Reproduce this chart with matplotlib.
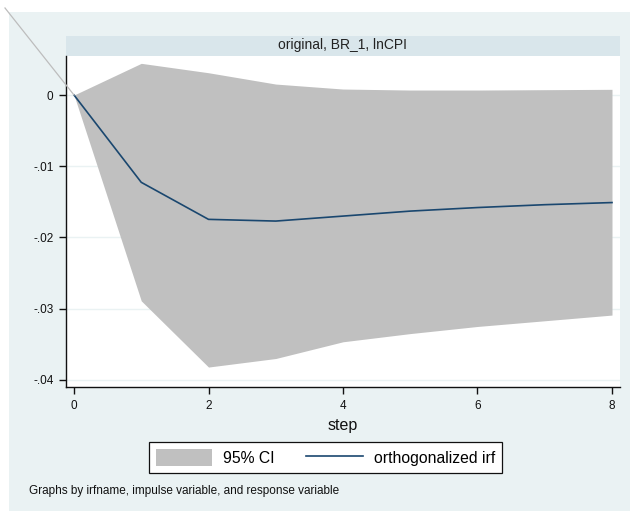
import matplotlib
matplotlib.use("Agg")
import matplotlib.pyplot as plt
from matplotlib.patches import Rectangle, Patch
from matplotlib.lines import Line2D

plt.rcParams['font.family'] = ['Liberation Sans', 'DejaVu Sans']

# ---- data ----
steps = [0, 1, 2, 3, 4, 5, 6, 7, 8]
irf = [0.0, -0.01226, -0.01746, -0.0177, -0.0170, -0.0163, -0.0158, -0.0154, -0.0151]
ci_upper = [0.0, 0.00445, 0.00313, 0.00154, 0.00084, 0.0007, 0.0007, 0.00075, 0.0008]
ci_lower = [0.0, -0.0289, -0.0382, -0.0370, -0.03465, -0.0335, -0.0325, -0.0317, -0.0309]
yticks = [0, -0.01, -0.02, -0.03, -0.04]
ytick_labels = ["0", "-.01", "-.02", "-.03", "-.04"]
xticks = [0, 2, 4, 6, 8]
panel_title = "original, BR_1, lnCPI"
note = "Graphs by irfname, impulse variable, and response variable"

W, H = 630, 511
fig = plt.figure(figsize=(W / 100, H / 100), dpi=100, facecolor="white")

def fx(px):
    return px / W

def fy(py):
    return 1 - py / H

# outer graph region
fig.patches.append(Rectangle((fx(9), 0), 1 - fx(9), fy(12), transform=fig.transFigure,
                             facecolor="#EAF2F3", edgecolor="none", zorder=-2))
# title strip
fig.patches.append(Rectangle((fx(66), fy(56)), fx(620) - fx(66), fy(36) - fy(56),
                             transform=fig.transFigure, facecolor="#D9E6EB",
                             edgecolor="none", zorder=-1))
fig.text((fx(66) + fx(620)) / 2, (fy(36) + fy(56)) / 2 + 0.001, panel_title,
         ha="center", va="center", fontsize=10, color="#222222")

left, right, top, bottom = 66, 620, 56, 387
ax = fig.add_axes([fx(left), fy(bottom), fx(right) - fx(left), fy(top) - fy(bottom)])
ax.set_zorder(2)
ax.set_facecolor("white")

ax.fill_between(steps, ci_lower, ci_upper, color="#C0C0C0", linewidth=0, zorder=2,
                label="95% CI")
ax.plot(steps, irf, color="#1A476F", linewidth=1.2, zorder=3, label="orthogonalized irf")

ax.set_xlim(-0.119, 8.119)
ax.set_ylim(-0.0410, 0.00548)
ax.set_yticks(yticks)
ax.set_yticklabels(ytick_labels)
ax.set_xticks(xticks)
ax.grid(axis="y", color="#EAF2F3", linewidth=1.0, zorder=1)
ax.set_axisbelow(True)
for s in ["top", "right"]:
    ax.spines[s].set_visible(False)
for s in ["left", "bottom"]:
    ax.spines[s].set_color("#111111")
    ax.spines[s].set_linewidth(1.0)
ax.tick_params(axis="both", direction="out", length=5, width=1, color="#111111",
               labelsize=8.5, labelcolor="#111111", pad=4)
ax.set_xlabel("step", fontsize=11.5, labelpad=5, color="#111111")

# legend
handles = [Patch(facecolor="#C0C0C0", edgecolor="none", label="95% CI"),
           Line2D([0], [0], color="#1A476F", linewidth=1.2, label="orthogonalized irf")]
leg = fig.legend(handles=handles, loc="center",
                 bbox_to_anchor=((fx(148) + fx(503)) / 2, (fy(442) + fy(473)) / 2),
                 ncol=2, frameon=True, fancybox=False, fontsize=11.3, framealpha=1,
                 handlelength=3.6, handleheight=1.3, columnspacing=2.0,
                 borderpad=0.45, handletextpad=0.7)
leg.set_zorder(3)
leg.get_frame().set_edgecolor("#111111")
leg.get_frame().set_linewidth(0.9)
leg.get_frame().set_facecolor("white")

fig.text(fx(29), fy(491), note, ha="left", va="center", fontsize=8.5, color="#111111")

# stray diagonal line from the top-left corner to the first IRF point
fig.canvas.draw()
end_disp = ax.transData.transform((steps[0], irf[0]))
end_fig = fig.transFigure.inverted().transform(end_disp)
fig.lines.append(Line2D([fx(5), end_fig[0]], [fy(8), end_fig[1]], transform=fig.transFigure,
                        color="#BDBDBD", linewidth=0.9, zorder=5))

fig.savefig("out.png", dpi=100, facecolor="white")
